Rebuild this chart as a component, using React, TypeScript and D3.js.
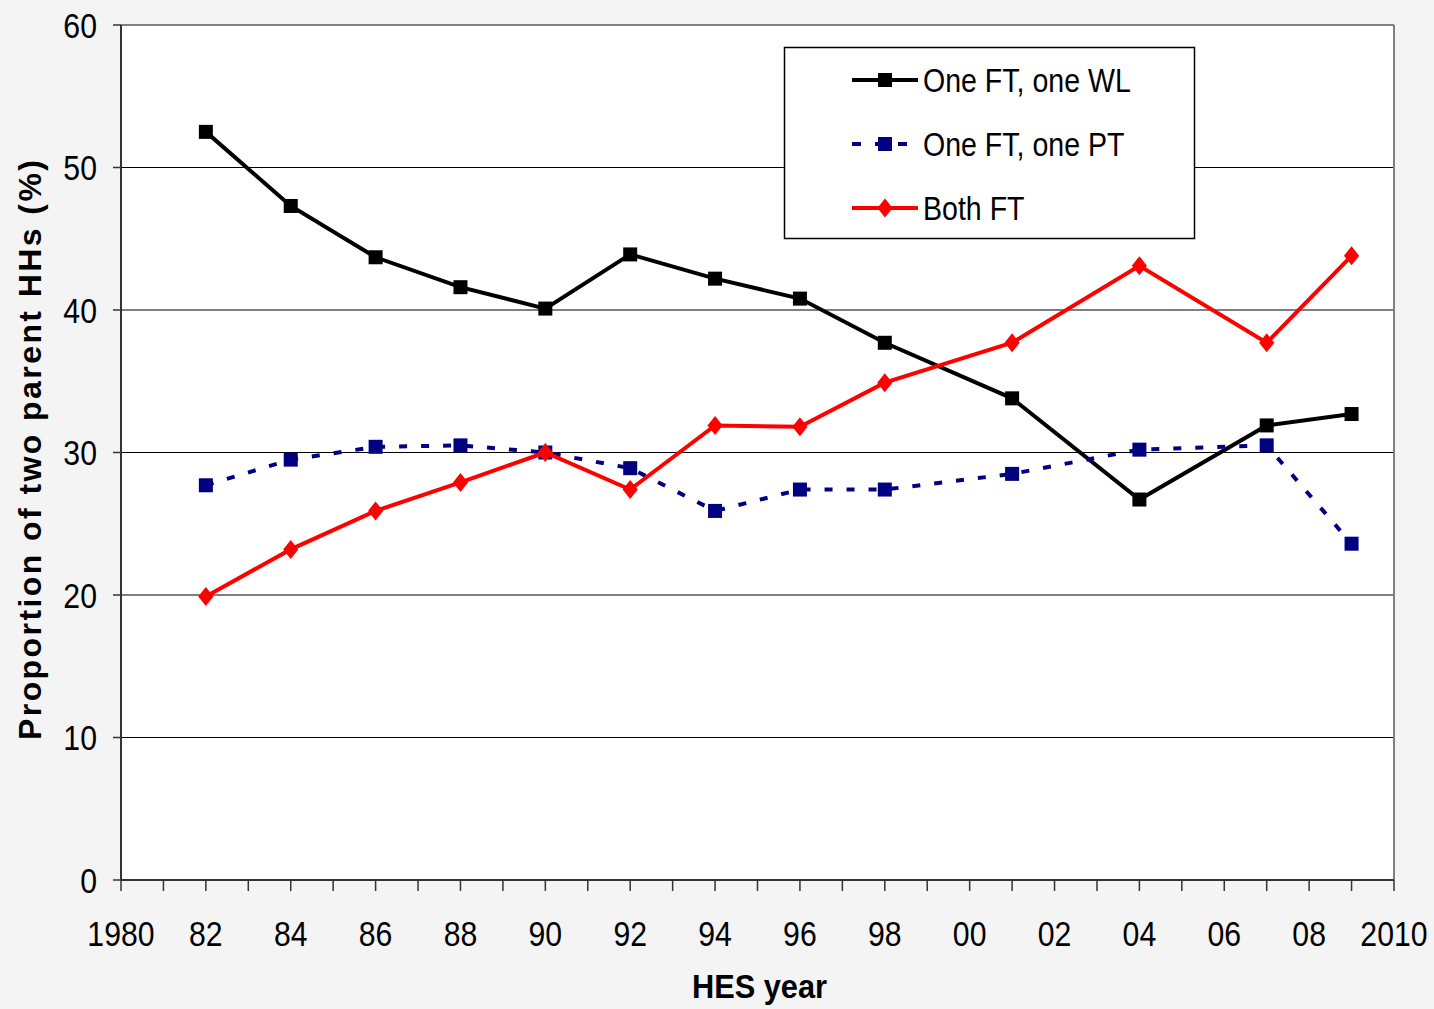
import React from "react";
import * as d3 from "d3";

const years = [1982, 1984, 1986, 1988, 1990, 1992, 1994, 1996, 1998, 2001, 2004, 2007, 2009];
const oneFtOneWl = [52.5, 47.3, 43.7, 41.6, 40.1, 43.9, 42.2, 40.8, 37.7, 33.8, 26.7, 31.9, 32.7];
const oneFtOnePt = [27.7, 29.5, 30.4, 30.5, 30.0, 28.9, 25.9, 27.4, 27.4, 28.5, 30.2, 30.5, 23.6];
const bothFt = [19.9, 23.2, 25.9, 27.9, 30.0, 27.4, 31.9, 31.8, 34.9, 37.7, 43.1, 37.7, 43.8];

const yTicks = [0, 10, 20, 30, 40, 50, 60];
const xLabelYears = d3.range(1980, 2011, 2);
const xLabels = ["1980", "82", "84", "86", "88", "90", "92", "94", "96", "98", "00", "02", "04", "06", "08", "2010"];

const seriesNames = ["One FT, one WL", "One FT, one PT", "Both FT"];

const W = 1434;
const H = 1009;
const left = 121;
const right = 1394;
const top = 25;
const bottom = 880;

const sans = "'Liberation Sans', Arial, sans-serif";
const NARROW = 0.84;

export default function App() {
  const x = d3.scaleLinear().domain([1980, 2010]).range([left, right]);
  const y = d3.scaleLinear().domain([0, 60]).range([bottom, top]);
  const line = d3
    .line<[number, number]>()
    .x((d) => x(d[0]))
    .y((d) => y(d[1]));

  const mk = (vals: number[]) => years.map((yr, i) => [yr, vals[i]] as [number, number]);

  const black = mk(oneFtOneWl);
  const blue = mk(oneFtOnePt);
  const red = mk(bothFt);

  const sq = (cx: number, cy: number, s: number, fill: string, key: string) => (
    <rect key={key} x={cx - s / 2} y={cy - s / 2} width={s} height={s} fill={fill} />
  );
  const diamond = (cx: number, cy: number, r: number, fill: string, key: string) => (
    <path key={key} d={`M${cx},${cy - r}L${cx + r * 0.8},${cy}L${cx},${cy + r}L${cx - r * 0.8},${cy}Z`} fill={fill} />
  );

  const nText = (
    key: string,
    tx: number,
    ty: number,
    content: string,
    size: number,
    anchor: "start" | "middle" | "end",
    dy?: string
  ) => (
    <text
      key={key}
      transform={`translate(${tx},${ty}) scale(${NARROW},1)`}
      textAnchor={anchor}
      dy={dy}
      fontFamily={sans}
      fontSize={size}
      fill="#000"
    >
      {content}
    </text>
  );

  const legendY = [80, 144, 208];

  return (
    <div style={{ position: "absolute", left: 0, top: 0 }}>
      <svg width={W} height={H} style={{ display: "block" }}>
        <rect x={0} y={0} width={W} height={H} fill="#f4f4f4" />
        <rect x={left} y={top} width={right - left} height={bottom - top} fill="#ffffff" />
        {yTicks.slice(1, -1).map((t) => (
          <line key={"g" + t} x1={left} x2={right} y1={y(t)} y2={y(t)} stroke="#000" strokeWidth={1} />
        ))}
        <line x1={left} x2={right} y1={top} y2={top} stroke="#808080" strokeWidth={2} />
        <line x1={right} x2={right} y1={top} y2={bottom} stroke="#808080" strokeWidth={2} />
        <line x1={left} x2={left} y1={top} y2={bottom} stroke="#333" strokeWidth={2} />
        <line x1={left} x2={right} y1={bottom} y2={bottom} stroke="#333" strokeWidth={2} />
        {yTicks.map((t) => (
          <g key={"yt" + t}>
            <line x1={left - 8} x2={left} y1={y(t)} y2={y(t)} stroke="#333" strokeWidth={1.5} />
            {nText("ytl" + t, 97, y(t), String(t), 36, "end", "0.36em")}
          </g>
        ))}
        {d3.range(1980, 2011, 1).map((yr) => (
          <line key={"xt" + yr} x1={x(yr)} x2={x(yr)} y1={bottom} y2={bottom + 11} stroke="#333" strokeWidth={1.5} />
        ))}
        {xLabelYears.map((yr, i) => nText("xl" + yr, x(yr), 946, xLabels[i], 36, "middle"))}
        <text
          transform={`translate(41,450) rotate(-90)`}
          textAnchor="middle"
          fontFamily={sans}
          fontWeight="bold"
          fontSize={32}
          textLength={580}
          lengthAdjust="spacing"
          fill="#000"
        >
          Proportion of two parent HHs (%)
        </text>
        <text
          x={692}
          y={998}
          fontFamily={sans}
          fontWeight="bold"
          fontSize={34}
          textLength={135}
          lengthAdjust="spacingAndGlyphs"
          fill="#000"
        >
          HES year
        </text>

        <path d={line(black) || ""} fill="none" stroke="#000" strokeWidth={4} />
        {black.map((d, i) => sq(x(d[0]), y(d[1]), 14, "#000", "b" + i))}
        <path d={line(blue) || ""} fill="none" stroke="#000080" strokeWidth={4} strokeDasharray="8,14" />
        {blue.map((d, i) => sq(x(d[0]), y(d[1]), 14, "#000080", "u" + i))}
        <path d={line(red) || ""} fill="none" stroke="#ff0000" strokeWidth={4} />
        {red.map((d, i) => diamond(x(d[0]), y(d[1]), 9.5, "#ff0000", "r" + i))}

        <rect x={784.5} y={47.5} width={410} height={191} fill="#fff" stroke="#000" strokeWidth={1.5} />
        <line x1={852} x2={918} y1={legendY[0]} y2={legendY[0]} stroke="#000" strokeWidth={4} />
        {sq(885, legendY[0], 14, "#000", "lg0")}
        <line x1={852} x2={918} y1={legendY[1]} y2={legendY[1]} stroke="#000080" strokeWidth={4} strokeDasharray="9,14" />
        {sq(885, legendY[1], 14, "#000080", "lg1")}
        <line x1={852} x2={918} y1={legendY[2]} y2={legendY[2]} stroke="#ff0000" strokeWidth={4} />
        {diamond(885, legendY[2], 9.5, "#ff0000", "lg2")}
        {seriesNames.map((n, i) => nText("ln" + i, 923, legendY[i], n, 34, "start", "0.36em"))}
      </svg>
    </div>
  );
}
